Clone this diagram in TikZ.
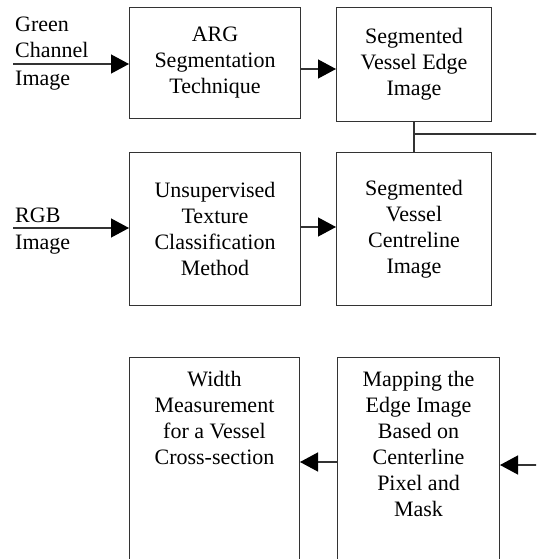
\documentclass[tikz,border=0pt]{standalone}
\usepackage{fontspec}
\setmainfont{Liberation Serif}
\usetikzlibrary{arrows.meta}
\tikzset{
  blk/.style={draw=black!80, line width=1pt, inner sep=0pt, anchor=north west, align=center},
  flow/.style={draw=black!80, line width=1.3pt, -{Triangle[length=18pt,width=19pt,color=black]}},
  conn/.style={draw=black!80, line width=1.3pt},
  lbl/.style={inner xsep=2pt, inner ysep=5pt, align=left}
}
\begin{document}
\begin{tikzpicture}[x=1pt,y=-1pt,font=\fontsize{22}{26}\selectfont]
  \useasboundingbox (0,0) rectangle (536,559);
  \clip (0,0) rectangle (536,559);
  % top row
  \node[blk, minimum width=171pt, minimum height=111pt] (arg) at (129,7) {ARG\\Segmentation\\Technique};
  \node[blk, minimum width=155pt, minimum height=114pt] (edge) at (336,7) {Segmented\\Vessel Edge\\Image};
  % middle row
  \node[blk, minimum width=171pt, minimum height=153pt] (uns) at (129,152) {Unsupervised\\Texture\\Classification\\Method};
  \node[blk, minimum width=155pt, minimum height=153pt] (cent) at (336,152) {Segmented\\Vessel\\Centreline\\Image};
  % bottom row (cut by the page)
  \node[blk, minimum width=170pt, minimum height=240pt] (wid) at (129,357) {};
  \node[blk, minimum width=162pt, minimum height=240pt] (map) at (337,357) {};
  \node[anchor=north, inner sep=0pt, align=center] (widtxt) at ([yshift=-14pt]wid.north) {Width\\Measurement\\for a Vessel\\Cross-section};
  \node[anchor=north, inner sep=0pt, align=center] (maptxt) at ([yshift=-14pt]map.north) {Mapping the\\Edge Image\\Based on\\Centerline\\Pixel and\\Mask};
  % inputs
  \coordinate (gin) at (13,64);
  \coordinate (rin) at (13,228);
  \node[lbl, anchor=south west, inner ysep=6pt] (glbl) at (gin) {Green\\Channel};
  \node[lbl, anchor=north west, inner ysep=7pt] (gimg) at (gin) {Image};
  \node[lbl, anchor=south west] (rlbl) at (rin) {RGB};
  \node[lbl, anchor=north west, inner ysep=7pt] (rimg) at (rin) {Image};
  \draw[flow] (gin) -- (gin -| arg.west);
  \draw[flow] (rin) -- (rin -| uns.west);
  % links
  \draw[flow] ([yshift=-6pt]arg.east) -- ([yshift=-6pt]arg.east -| edge.west);
  \draw[flow] ([yshift=2pt]uns.east) -- ([yshift=2pt]uns.east -| cent.west);
  \coordinate (eout) at (540,134);
  \draw[conn] (edge.south) -- (cent.north);
  \draw[conn] (edge.south |- eout) -- (eout);
  \coordinate (min) at (540,465);
  \draw[flow] (min) -- (min -| map.east);
  \draw[flow] ([yshift=-105pt]map.north west) -- ([yshift=-105pt]map.north west -| wid.east);
\end{tikzpicture}
\end{document}
